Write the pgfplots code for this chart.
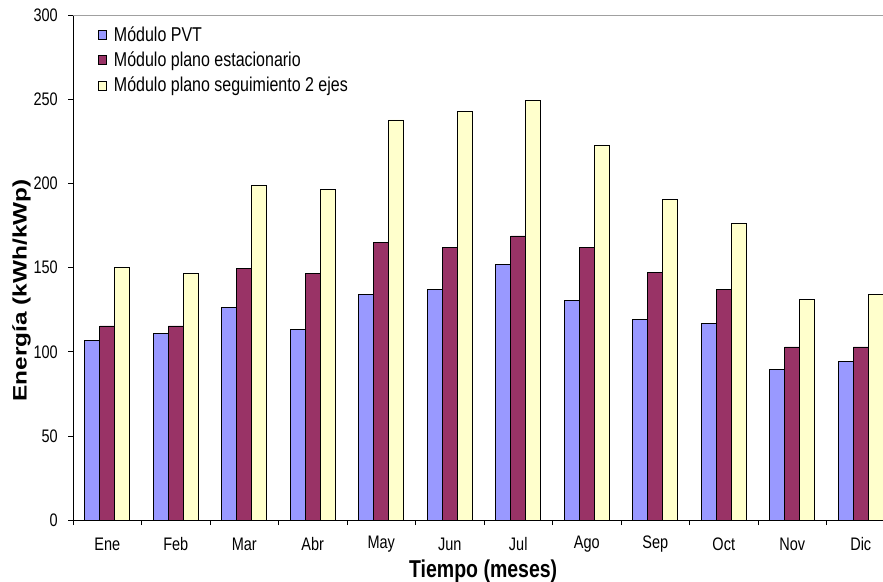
\documentclass[border=0pt]{standalone}
\usepackage{graphicx}
\usepackage{pgfplots}
\pgfplotsset{compat=1.18}
\usepackage{fontspec}
\setmainfont{Liberation Sans}

\definecolor{pvtblue}{HTML}{9999FF}
\definecolor{planored}{HTML}{993366}
\definecolor{segyellow}{HTML}{FFFFCC}
\definecolor{topgray}{HTML}{A0A0A0}

% the reference is stretched a little in height
\newcommand{\vs}[1]{\scalebox{1}[1.25]{#1}}

\begin{document}
\begin{tikzpicture}
\begin{axis}[
    at={(73pt,61pt)}, anchor=south west,
    scale only axis,
    width=822pt, height=504.5pt,
    xmin=-0.5, xmax=11.5,
    ymin=0, ymax=300,
    axis lines=left,
    axis line style={-, black, line width=0.8pt},
    tick align=outside,
    major tick length=5pt,
    tick style={black, line width=0.8pt},
    ytick={0,50,...,300},
    yticklabels={\vs{0},\vs{50},\vs{100},\vs{150},\vs{200},\vs{250},\vs{300}},
    yticklabel style={font=\fontsize{14.5}{16}\selectfont, anchor=east, inner sep=0pt, xshift=-10pt},
    xtick={-0.5,0.5,...,11.5},
    xticklabels={},
    extra x ticks={0,1,2,3,4,5,6,7,8,9,10,11},
    extra x tick labels={\vs{Ene},\vs{Feb},\vs{Mar},\vs{Abr},\vs{May},\vs{Jun},\vs{Jul},\vs{Ago},\vs{Sep},\vs{Oct},\vs{Nov},\vs{Dic}},
    extra x tick style={major tick length=0pt,
        xticklabel style={font=\fontsize{14.5}{16}\selectfont, anchor=center, inner sep=0pt, yshift=-24pt}},
    xlabel={\vs{\bfseries Tiempo (meses)}},
    xlabel style={font=\fontsize{19.5}{22}\selectfont, at={(axis description cs:0.499,-0.101)}, anchor=center},
    ylabel={\scalebox{1.25}[1]{\bfseries Energía (kWh/kWp)}},
    ylabel style={font=\fontsize{19.5}{22}\selectfont, at={(axis description cs:-0.0625,0.455)}, anchor=center},
    ybar=0pt,
    bar width=15pt,
    legend cell align=left,
    legend style={draw=none, fill=none, at={(axis description cs:0.030,0.982)}, anchor=north west,
        font=\fontsize{16}{18}\selectfont, row sep=5pt, inner sep=0pt,
        /tikz/every odd column/.append style={column sep=5pt}},
    legend image code/.code={\draw[#1, line width=0.6pt] (0pt,-4.5pt) rectangle (8.5pt,4.5pt);},
    clip=false,
]
\addplot[fill=pvtblue, draw=black, line width=0.7pt] coordinates {
    (0,107.0) (1,111.0) (2,126.2) (3,113.4) (4,134.0) (5,137.2)
    (6,152.2) (7,130.8) (8,119.3) (9,117.0) (10,89.6) (11,94.5)};
\addlegendentry{\vs{Módulo PVT}}
\addplot[fill=planored, draw=black, line width=0.7pt] coordinates {
    (0,115.4) (1,115.4) (2,149.8) (3,146.7) (4,165.3) (5,162.2)
    (6,168.9) (7,162.2) (8,147.1) (9,137.2) (10,102.9) (11,102.9)};
\addlegendentry{\vs{Módulo plano estacionario}}
\addplot[fill=segyellow, draw=black, line width=0.7pt] coordinates {
    (0,150.0) (1,146.7) (2,198.8) (3,196.8) (4,237.9) (5,243.0)
    (6,249.7) (7,222.8) (8,190.7) (9,176.4) (10,131.4) (11,134.0)};
\addlegendentry{\vs{Módulo plano seguimiento 2 ejes}}
\draw[topgray, line width=1.2pt] (rel axis cs:0,1) -- (rel axis cs:1,1);
\end{axis}
\pgfresetboundingbox
\path[use as bounding box] (0pt,0pt) rectangle (883pt,581pt);
\end{tikzpicture}
\end{document}
